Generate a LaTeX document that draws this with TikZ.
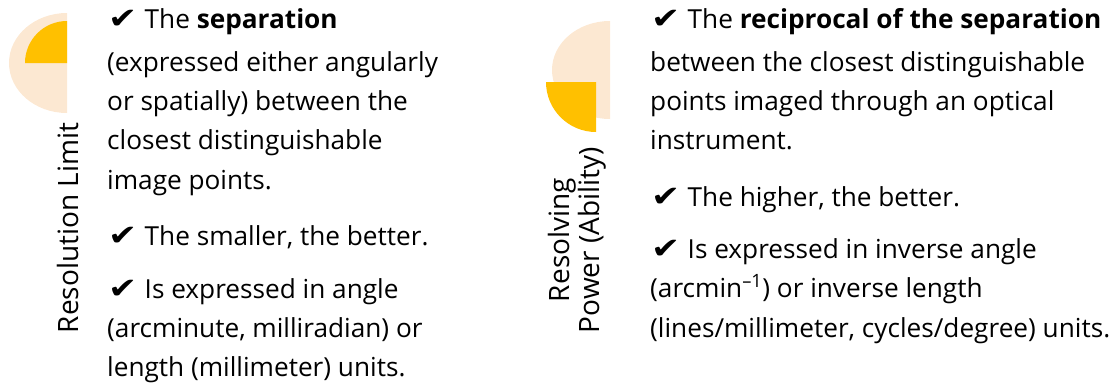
\documentclass[tikz,border=0pt]{standalone}
\usepackage{fontspec}
\setmainfont{Open Sans}
\newfontfamily\symfont{DejaVu Sans Bold}
\definecolor{lightpeach}{HTML}{FCE8D2}
\definecolor{gold}{HTML}{FFC000}
\begin{document}
\begin{tikzpicture}[x=1pt,y=-1pt,
  txt/.style={anchor=base west,inner sep=0pt,font=\fontsize{26.2}{30}\selectfont},
  vlab/.style={rotate=90,inner sep=0pt,align=center}]
\useasboundingbox (0,0) rectangle (1117,386);
\newcommand{\chk}{\scalebox{1.2}[1.0]{\fontsize{29}{30}\symfont\char"2714}\hspace{0.28em}}
% icon 1
\fill[lightpeach] (67,13) arc[start angle=270,end angle=90,x radius=58,y radius=50] -- cycle;
\fill[gold] (67,63) -- (67,21) arc[start angle=270,end angle=180,radius=42] -- cycle;
% icon 2
\fill[lightpeach] (610,21) arc[start angle=270,end angle=90,x radius=58,y radius=49] -- cycle;
\fill[gold] (596,82) -- (546,82) arc[start angle=180,end angle=90,radius=50] -- cycle;
% vertical labels
\node[vlab,font=\fontsize{28}{32}\selectfont] (l1) at (68,228) {Resolution Limit};
\node[vlab,font=\fontsize{28}{30.5}\selectfont] (l2) at (577,240) {Resolving\\Power (Ability)};
% left column
\node[txt] (a1) at (108,28) {\chk The \textbf{separation}};
\node[txt] (a2) at (107,71) {(expressed either angularly};
\node[txt] (a3) at (107,110) {or spatially) between the};
\node[txt] (a4) at (107,149) {closest distinguishable};
\node[txt] (a5) at (107,189) {image points.};
\node[txt] (a6) at (108,245) {\chk The smaller, the better.};
\node[txt] (a7) at (108,298) {\chk Is expressed in angle};
\node[txt] (a8) at (107,337) {(arcminute, milliradian) or};
\node[txt] (a9) at (107,376) {length (millimeter) units.};
% right column
\node[txt] (b1) at (651,28) {\chk The \textbf{reciprocal of the separation}};
\node[txt] (b2) at (650,71) {between the closest distinguishable};
\node[txt] (b3) at (650,110) {points imaged through an optical};
\node[txt] (b4) at (650,149) {instrument.};
\node[txt] (b5) at (651,206) {\chk The higher, the better.};
\node[txt] (b6) at (651,258) {\chk Is expressed in inverse angle};
\node[txt] (b7) at (650,297) {(arcmin\textsuperscript{–1}) or inverse length};
\node[txt] (b8) at (650,337) {(lines/millimeter, cycles/degree) units.};
\end{tikzpicture}
\end{document}
